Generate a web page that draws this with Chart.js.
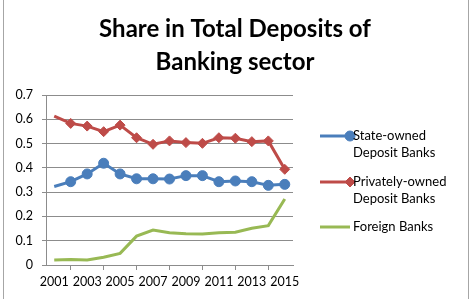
<!DOCTYPE html>
<html>
<head>
<meta charset="utf-8">
<script src="https://cdn.jsdelivr.net/npm/chart.js@4.4.1/dist/chart.umd.min.js"></script>
<style>
  html, body { margin: 0; padding: 0; background: #fff; }
  #wrap { position: relative; width: 472px; height: 299px; }
</style>
</head>
<body>
<div id="wrap"><canvas id="depositsChart" width="472" height="299"></canvas></div>
<script>
const years = ['2001', '2002', '2003', '2004', '2005', '2006', '2007', '2008',
  '2009', '2010', '2011', '2012', '2013', '2014', '2015'];
const stateOwned = [0.323, 0.343, 0.375, 0.419, 0.375, 0.355, 0.355, 0.354,
  0.368, 0.368, 0.343, 0.346, 0.343, 0.328, 0.332];
const privatelyOwned = [0.613, 0.583, 0.572, 0.549, 0.576, 0.524, 0.497, 0.511,
  0.504, 0.501, 0.524, 0.522, 0.508, 0.511, 0.394];
const foreignBanks = [0.021, 0.023, 0.021, 0.032, 0.048, 0.119, 0.144, 0.133,
  0.129, 0.128, 0.133, 0.135, 0.151, 0.162, 0.272];
const yTicks = [0, 0.1, 0.2, 0.3, 0.4, 0.5, 0.6, 0.7];
const titleLines = ['Share in Total Deposits of', 'Banking sector'];

const FONT = 'Lato, "Open Sans", sans-serif';

// markers everywhere except the first year
function markers(r) {
  return years.map(function(y, i) { return i === 0 ? 0 : r; });
}

// title, side legend and frame drawn by hand
const decorPlugin = {
  id: 'decor',
  afterDraw: function(chart) {
    const ctx = chart.ctx;
    ctx.save();

    ctx.strokeStyle = '#a6a6a6';
    ctx.lineWidth = 1;
    ctx.beginPath();
    ctx.moveTo(3.5, 0); ctx.lineTo(3.5, 299);
    ctx.moveTo(468.5, 0); ctx.lineTo(468.5, 299);
    ctx.stroke();

    ctx.fillStyle = '#000';
    ctx.textAlign = 'center';
    ctx.textBaseline = 'alphabetic';
    ctx.font = 'bold 24px ' + FONT;
    ctx.fillText(titleLines[0], 235, 37);
    ctx.fillText(titleLines[1], 235, 70);

    const items = [
      { ds: 0, lines: ['State-owned', 'Deposit Banks'], y: 136 },
      { ds: 1, lines: ['Privately-owned', 'Deposit Banks'], y: 182 },
      { ds: 2, lines: ['Foreign Banks'], y: 227 }
    ];
    ctx.font = '13px ' + FONT;
    ctx.textAlign = 'left';
    ctx.textBaseline = 'middle';
    items.forEach(function(it) {
      const ds = chart.data.datasets[it.ds];
      ctx.strokeStyle = ds.borderColor;
      ctx.lineWidth = 3;
      ctx.beginPath();
      ctx.moveTo(320, it.y);
      ctx.lineTo(350, it.y);
      ctx.stroke();
      if (ds.pointStyle !== false) {
        ctx.fillStyle = ds.borderColor;
        ctx.lineWidth = 1;
        Chart.helpers.drawPoint(ctx, {
          pointStyle: ds.pointStyle,
          radius: ds.legendRadius,
          rotation: 0,
          borderWidth: 1
        }, 350, it.y);
      }
      ctx.fillStyle = '#000';
      it.lines.forEach(function(t, k) {
        ctx.fillText(t, 353, it.y + k * 17);
      });
    });
    ctx.restore();
  }
};

const ctx = document.getElementById('depositsChart').getContext('2d');
new Chart(ctx, {
  type: 'line',
  data: {
    labels: years,
    datasets: [{
      label: 'State-owned Deposit Banks',
      data: stateOwned,
      borderColor: '#4a7ebb',
      backgroundColor: '#4a7ebb',
      borderWidth: 3,
      pointStyle: 'circle',
      pointRadius: markers(5),
      pointBorderWidth: 1,
      legendRadius: 5,
      tension: 0
    }, {
      label: 'Privately-owned Deposit Banks',
      data: privatelyOwned,
      borderColor: '#be4b48',
      backgroundColor: '#be4b48',
      borderWidth: 3,
      pointStyle: 'rectRot',
      pointRadius: markers(5),
      pointBorderWidth: 1,
      legendRadius: 5,
      tension: 0
    }, {
      label: 'Foreign Banks',
      data: foreignBanks,
      borderColor: '#98b954',
      backgroundColor: '#98b954',
      borderWidth: 3,
      pointStyle: false,
      pointRadius: 0,
      tension: 0
    }]
  },
  options: {
    responsive: false,
    animation: false,
    layout: { padding: { top: 95, right: 179, left: 0, bottom: 0 } },
    plugins: {
      legend: { display: false },
      title: { display: false },
      tooltip: { enabled: false }
    },
    scales: {
      x: {
        offset: true,
        grid: {
          offset: true,
          drawOnChartArea: false,
          drawTicks: true,
          tickLength: 5,
          color: '#8c8c8c'
        },
        border: { color: '#8c8c8c' },
        ticks: {
          autoSkip: false,
          maxRotation: 0,
          padding: 4,
          color: '#000',
          font: { family: FONT, size: 12.5 },
          callback: function(v, i) { return i % 2 === 0 ? years[i] : null; }
        },
        afterFit: function(scale) { scale.height = 34; }
      },
      y: {
        min: 0,
        max: 0.7,
        afterBuildTicks: function(scale) {
          scale.ticks = yTicks.map(function(v) { return { value: v }; });
        },
        grid: { color: '#8c8c8c', tickLength: 4 },
        border: { color: '#8c8c8c' },
        ticks: {
          padding: 9,
          color: '#000',
          font: { family: FONT, size: 12.5 },
          callback: function(v) { return v === 0 ? '0' : v.toFixed(1); }
        },
        afterFit: function(scale) { scale.width = 46; }
      }
    }
  },
  plugins: [decorPlugin]
});
</script>
</body>
</html>
